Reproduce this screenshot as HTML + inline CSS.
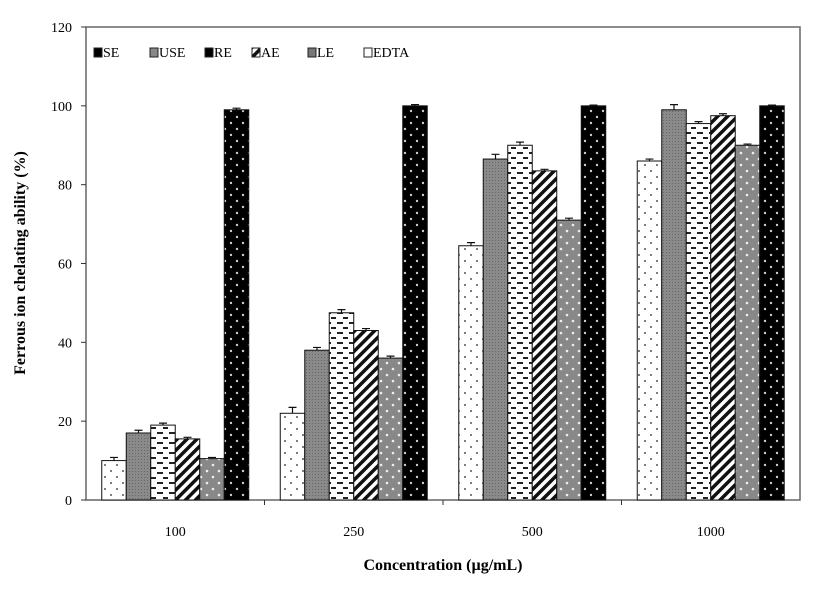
<!DOCTYPE html>
<html><head><meta charset="utf-8"><style>
body{margin:0;background:#fff;}
text{font-family:"Liberation Serif",serif;}
</style></head><body>
<svg id="chart" width="827" height="593" xmlns="http://www.w3.org/2000/svg">
<defs>
<pattern id="p0" width="12" height="12" patternUnits="userSpaceOnUse"><rect width="12" height="12" fill="#fff"/><circle cx="3" cy="3" r="1" fill="#555"/><circle cx="9" cy="9" r="1" fill="#555"/></pattern>
<pattern id="p1" width="3" height="3" patternUnits="userSpaceOnUse"><rect width="3" height="3" fill="#8a8a8a"/><rect width="1" height="1" fill="#666"/></pattern>
<pattern id="p2" width="12" height="10" patternUnits="userSpaceOnUse"><rect width="12" height="10" fill="#fff"/><rect x="1" y="2" width="6" height="2" fill="#222"/><rect x="7" y="7" width="5" height="2" fill="#222"/></pattern>
<pattern id="p3" width="7" height="7" patternUnits="userSpaceOnUse" patternTransform="rotate(45)"><rect width="7" height="7" fill="#fff"/><rect width="3.5" height="7" fill="#111"/></pattern>
<pattern id="p4" width="12" height="12" patternUnits="userSpaceOnUse"><rect width="12" height="12" fill="#888"/><circle cx="3" cy="3" r="1.3" fill="#eee"/><circle cx="9" cy="9" r="1.3" fill="#eee"/></pattern>
<pattern id="p5" width="12" height="12" patternUnits="userSpaceOnUse"><rect width="12" height="12" fill="#000"/><circle cx="3" cy="3" r="1.2" fill="#ccc"/><circle cx="9" cy="9" r="1.2" fill="#ccc"/></pattern>
</defs>
<g id="plot"></g>
</svg>
<script>
const categories=["100","250","500","1000"];
const seriesNames=["SE","USE","RE","AE","LE","EDTA"];
const s0=[10,22,64.5,86];
const s1=[17,38,86.5,99];
const s2=[19,47.5,90,95.5];
const s3=[15.5,43,83.5,97.5];
const s4=[10.5,36,71,90];
const s5=[99,100,100,100];
const e0=[0.8,1.5,0.8,0.5];
const e1=[0.7,0.7,1.2,1.3];
const e2=[0.5,0.8,0.8,0.5];
const e3=[0.4,0.5,0.4,0.5];
const e4=[0.3,0.5,0.5,0.3];
const e5=[0.4,0.3,0.2,0.2];
const yTicks=[0,20,40,60,80,100,120];
const series=[s0,s1,s2,s3,s4,s5], errs=[e0,e1,e2,e3,e4,e5];
const NS="http://www.w3.org/2000/svg";
const X0=86,X1=800,Y0=500,Y1=27;
const y=v=>Y0-(v/120)*(Y0-Y1);
const cw=(X1-X0)/categories.length;
const xc=i=>X0+cw*(i+0.5);
const bw=24.5;
const g=document.getElementById('plot');
function mk(t,a){const e=document.createElementNS(NS,t);for(const k in a)e.setAttribute(k,a[k]);g.appendChild(e);return e;}
let r=mk('rect',{x:X0,y:Y1,width:X1-X0,height:Y0-Y1,fill:'none',stroke:'#666','stroke-width':1.5});


yTicks.forEach(t=>{
 let l=mk('line',{x1:X0-5,x2:X0,y1:y(t),y2:y(t),stroke:'#333'});
 
 
 let tx=mk('text',{x:X0-14,y:y(t)+5,'text-anchor':'end','font-size':14});
 tx.textContent=t;
 
 
});
categories.forEach((c,i)=>{
 if(i>0){let l=mk('line',{x1:X0+cw*i,x2:X0+cw*i,y1:Y0,y2:Y0+5,stroke:'#333'});
 
 }
 let tx=mk('text',{x:xc(i),y:536,'text-anchor':'middle','font-size':14});
 tx.textContent=c;
 
 
 series.forEach((s,j)=>{
  const bx=xc(i)-3*bw+j*bw;
  let b=mk('rect',{x:bx,y:y(s[i]),width:bw,height:Y0-y(s[i]),fill:'url(#p'+j+')',stroke:'#111','stroke-width':1});
  
  
  const e=errs[j][i],cx=bx+bw/2;
  let el=mk('path',{d:`M${cx},${y(s[i]+e)}V${y(s[i])} M${cx-4},${y(s[i]+e)}H${cx+4}`,stroke:'#111','stroke-width':1.2,fill:'none'});
  
  
 });
});
const legX=[94,150,205,252,308,364];
seriesNames.forEach((n,j)=>{
 const fills=['#000','#888','#000','url(#p3)','#777','#fff'];
 let sw=mk('rect',{x:legX[j],y:48,width:8,height:9,fill:fills[j],stroke:'#222'});
 
 
 let t=mk('text',{x:legX[j]+9,y:57,'font-size':14});
 t.textContent=n;
 
 
});
let xt=mk('text',{x:443,y:570,'text-anchor':'middle','font-size':16,'font-weight':'bold'});
xt.textContent='Concentration (µg/mL)';


let yt=mk('text',{x:0,y:0,'text-anchor':'middle','font-size':16,'font-weight':'bold',transform:'translate(25,263) rotate(-90)'});
yt.textContent='Ferrous ion chelating ability (%)';


</script>
</body></html>
